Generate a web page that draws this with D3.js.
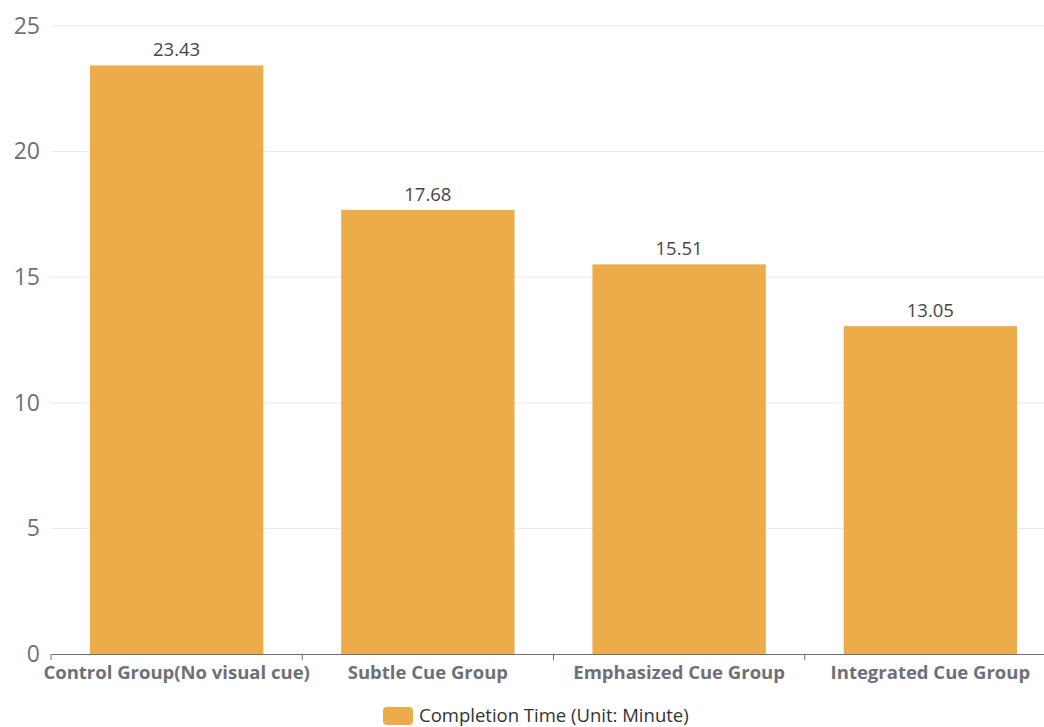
<!DOCTYPE html>
<html>
<head>
<meta charset="utf-8">
<script src="https://cdn.jsdelivr.net/npm/d3@7"></script>
<style>
  html, body { margin: 0; padding: 0; background: #fff; }
  svg { display: block; font-family: "Open Sans", "Noto Sans", sans-serif; }
</style>
</head>
<body>
<svg id="chart" width="1044" height="727"></svg>
<script>
// Completion time per cue condition
const categories = [
  "Control Group(No visual cue)",
  "Subtle Cue Group",
  "Emphasized Cue Group",
  "Integrated Cue Group"
];
const completionTime = [23.43, 17.68, 15.51, 13.05];
const yTicks = [0, 5, 10, 15, 20, 25];
const seriesName = "Completion Time (Unit: Minute)";

const svg = d3.select("#chart");
const plot = { left: 51, right: 1056, top: 26, bottom: 654 };
const barColor = "#ecac4a";
const axisColor = "#6e7079";

const x = d3.scaleBand().domain(categories).range([plot.left, plot.right]).padding(0);
const y = d3.scaleLinear().domain([0, 25]).range([plot.bottom, plot.top]);
const barW = x.bandwidth() * 0.69;

// horizontal grid
svg.append("g")
  .selectAll("line")
  .data(yTicks.filter(d => d > 0))
  .join("line")
  .attr("x1", plot.left).attr("x2", plot.right)
  .attr("y1", d => y(d)).attr("y2", d => y(d))
  .attr("stroke", "#e6e9f0").attr("stroke-width", 1);

// y axis labels
const yAxis = d3.axisLeft(y).tickValues(yTicks).tickSize(0).tickPadding(11);
svg.append("g")
  .attr("transform", `translate(${plot.left},0)`)
  .call(yAxis)
  .call(g => g.select(".domain").remove())
  .call(g => g.selectAll("text")
    .attr("fill", axisColor)
    .attr("font-size", 23)
    .attr("font-family", "'Open Sans', 'Noto Sans', sans-serif"));

// bars
svg.append("g")
  .selectAll("rect")
  .data(categories)
  .join("rect")
  .attr("x", d => x(d) + (x.bandwidth() - barW) / 2)
  .attr("width", barW)
  .attr("y", (d, i) => y(completionTime[i]))
  .attr("height", (d, i) => y(0) - y(completionTime[i]))
  .attr("fill", barColor);

// value labels
svg.append("g")
  .selectAll("text")
  .data(categories)
  .join("text")
  .attr("x", d => x(d) + x.bandwidth() / 2)
  .attr("y", (d, i) => y(completionTime[i]) - 9)
  .attr("text-anchor", "middle")
  .attr("font-size", 18.5)
  .attr("fill", "#464646")
  .text((d, i) => completionTime[i].toFixed(2));

// x axis
const xAxis = d3.axisBottom(x).tickSize(0).tickPadding(12);
const xg = svg.append("g")
  .attr("transform", `translate(0,${plot.bottom})`)
  .call(xAxis);
xg.select(".domain").attr("stroke", axisColor).attr("stroke-width", 1.2);
xg.selectAll("text")
  .attr("fill", axisColor)
  .attr("font-size", 18.5)
  .attr("font-weight", "bold")
  .attr("font-family", "'Open Sans', 'Noto Sans', sans-serif");
// boundary ticks between categories
xg.append("g")
  .selectAll("line")
  .data(categories.concat([null]))
  .join("line")
  .attr("x1", (d, i) => plot.left + i * x.step())
  .attr("x2", (d, i) => plot.left + i * x.step())
  .attr("y1", 0).attr("y2", 6)
  .attr("stroke", axisColor);

// legend
const legend = svg.append("g").attr("transform", "translate(383,707)");
legend.append("rect")
  .attr("width", 30).attr("height", 18).attr("rx", 4)
  .attr("fill", barColor);
legend.append("text")
  .attr("x", 36).attr("y", 9).attr("dy", "0.35em")
  .attr("font-size", 18.5)
  .attr("fill", "#333")
  .text(seriesName);
</script>
</body>
</html>
